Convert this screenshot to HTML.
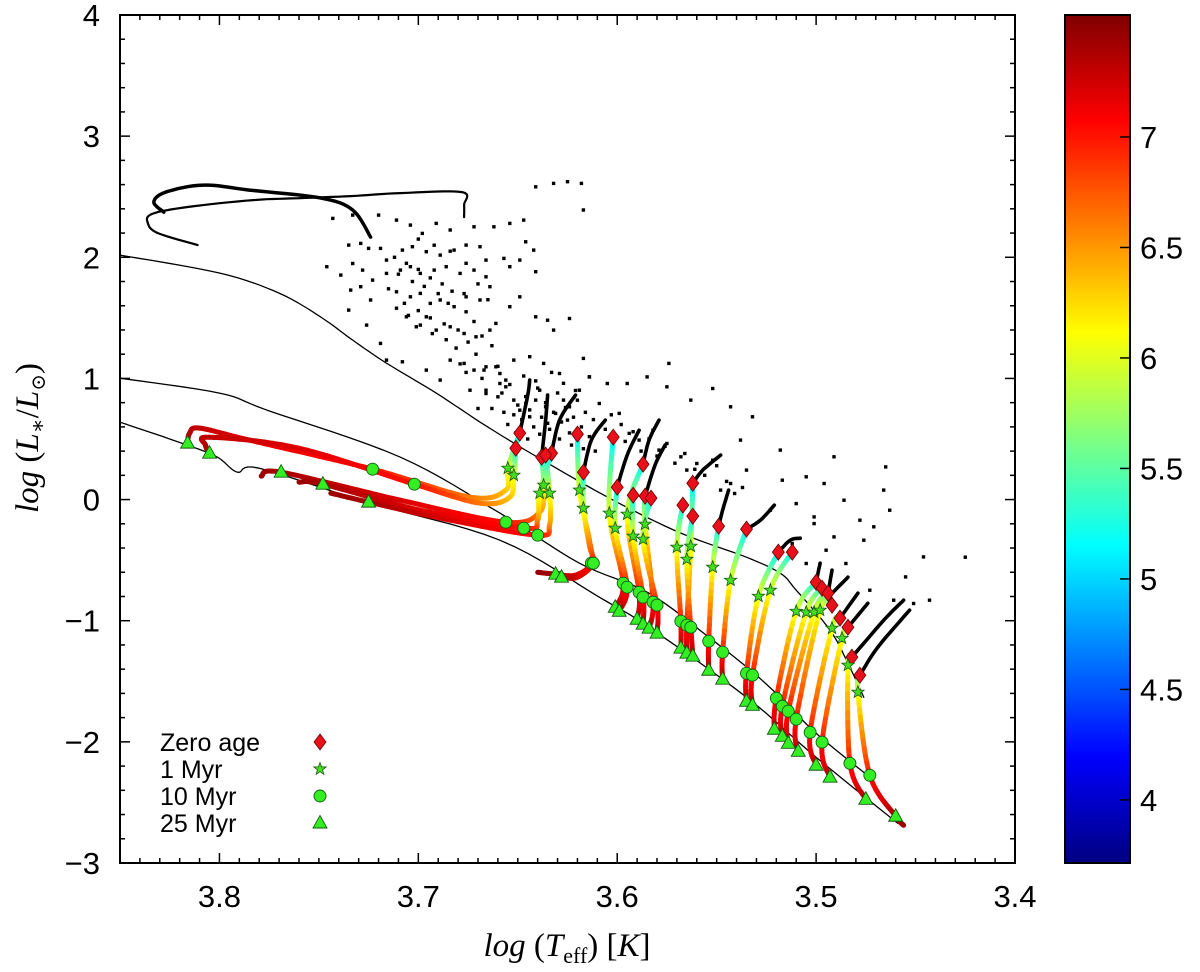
<!DOCTYPE html>
<html><head><meta charset="utf-8"><title>HR diagram</title>
<style>html,body{margin:0;padding:0;background:#fff}svg{display:block}</style></head>
<body>
<svg id="chart" width="1200" height="972" viewBox="0 0 1200 972" xmlns="http://www.w3.org/2000/svg">
<defs><clipPath id="pc"><rect x="120" y="15" width="895" height="848"/></clipPath>
<linearGradient id="cbg" x1="0" y1="1" x2="0" y2="0"></linearGradient></defs>
<g id="plot" clip-path="url(#pc)"></g>
<g id="axes"></g>
<g id="legend"></g>
<g id="cbar"></g>
<text x="567" y="956" text-anchor="middle" font-family="Liberation Serif, serif" font-size="33"><tspan font-style="italic">log</tspan> (<tspan font-style="italic">T</tspan><tspan font-size="22" dy="7">eff</tspan><tspan dy="-7">) [</tspan><tspan font-style="italic">K</tspan>]</text>
<text transform="translate(38,438) rotate(-90)" text-anchor="middle" font-family="Liberation Serif, DejaVu Serif, serif" font-size="33"><tspan font-style="italic">log</tspan> (<tspan font-style="italic">L</tspan><tspan font-size="22" dy="7">∗</tspan><tspan dy="-7">/</tspan><tspan font-style="italic">L</tspan><tspan font-size="20" dy="7">⊙</tspan><tspan dy="-7">)</tspan></text>
</svg>
<script>
// ---- axis ticks ----
const xTicks = [3.8, 3.7, 3.6, 3.5, 3.4];
const yTicks = [4, 3, 2, 1, 0, -1, -2, -3];
const cbTicks = [7, 6.5, 6, 5.5, 5, 4.5, 4];
// ---- isochrone lines ----
const isoATeff = [3.850,3.800,3.770,3.749,3.733,3.716,3.691,3.665,3.635,3.602,3.568,3.535,3.518,3.510,3.493,3.484,3.476];
const isoALum  = [2.018,1.870,1.704,1.506,1.316,1.126,0.879,0.598,0.301,-0.005,-0.277,-0.476,-0.608,-0.748,-1.078,-1.351,-1.632];
const isoBTeff = [3.850,3.800,3.776,3.709,3.659,3.619,3.584,3.552,3.533,3.518,3.500,3.473];
const isoBLum  = [1.002,0.879,0.738,0.350,-0.112,-0.525,-0.773,-1.161,-1.409,-1.632,-1.929,-2.292];
const isoCTeff = [3.850,3.816,3.801,3.791,3.780,3.726,3.659,3.609,3.584,3.535,3.500,3.459];
const isoCLum  = [0.639,0.449,0.350,0.226,0.259,-0.021,-0.335,-0.806,-1.054,-1.632,-2.127,-2.672];
// ---- upper-left black curves ----
const loop1Teff = [3.724,3.733,3.749,3.785,3.808,3.827,3.833,3.828];
const loop1Lum  = [2.167,2.390,2.489,2.555,2.596,2.538,2.456,2.373];
const loop2Teff = [3.811,3.831,3.836,3.834,3.816,3.783,3.758,3.734,3.709,3.678,3.677,3.677];
const loop2Lum  = [2.101,2.200,2.282,2.357,2.415,2.472,2.489,2.505,2.530,2.538,2.431,2.332];
// ---- observed stars (black dots) ----
const dotTeff = [3.743,3.733,3.720,3.711,3.704,3.698,3.691,3.684,3.672,3.662,3.654,3.647,3.646,3.642,3.641,3.632,3.625,3.618,3.617,3.735,3.729,3.725,3.719,3.716,3.708,3.703,3.696,3.689,3.682,3.676,3.669,3.666,3.746,3.739,3.733,3.728,3.723,3.716,3.709,3.704,3.699,3.692,3.686,3.679,3.672,3.666,3.657,3.649,3.641,3.734,3.729,3.724,3.711,3.704,3.699,3.694,3.689,3.682,3.676,3.669,3.664,3.654,3.735,3.726,3.719,3.706,3.701,3.696,3.691,3.684,3.677,3.671,3.664,3.661,3.654,3.649,3.641,3.635,3.624,3.632,3.716,3.708,3.696,3.689,3.684,3.677,3.672,3.666,3.659,3.652,3.644,3.637,3.629,3.674,3.666,3.670,3.663,3.660,3.656,3.617,3.614,
3.649,3.644,3.641,3.636,3.631,3.627,3.624,3.639,3.646,3.625,3.659,3.652,3.619,3.614,3.609,3.605,3.599,3.594,3.589,3.582,3.579,3.575,3.568,3.565,3.560,3.552,3.548,3.543,3.535,3.538,3.532,3.518,3.517,3.510,3.505,3.501,3.496,3.491,3.486,3.478,3.471,3.463,3.465,3.455,3.446,3.451,3.461,3.473,3.476,3.466,3.491,3.485,3.495,3.574,3.585,3.575,3.595,3.552,3.543,3.563,3.667,3.666,3.661,3.656,3.535,3.523,3.512,3.501,3.505,3.425,3.443,
3.655,3.652,3.650,3.648,3.646,3.644,3.642,3.640,3.638,3.636,3.634,3.632,3.630,3.628,3.626,3.624,3.622,3.620,3.618,3.616,3.614,3.612,3.658,3.654,3.647,3.641,3.633,3.627,3.621,3.657,3.651,3.645,3.639,3.635,3.629,3.623,3.617,3.611,3.606,3.603,3.598,3.596,3.592,3.588,3.584,3.580,3.576,3.571,3.566,3.561,3.556,3.550,3.545,3.541,3.537,
3.712,3.706,3.700,3.694,3.688,3.683,3.690,3.697,3.703,3.710,3.715,3.707,3.700,3.694,3.687,3.680,3.676,3.672,3.668,3.675,3.681,3.686,3.693,3.699,3.705,3.711,3.679,3.671,3.663,3.660,3.668,3.676,3.685,3.677,3.670,3.665,3.692,3.700,3.684,3.676];
const dotLum = [2.321,2.348,2.348,2.307,2.266,2.197,2.280,2.225,2.252,2.252,2.280,2.307,2.128,2.059,2.582,2.610,2.624,2.610,2.390,2.101,2.115,2.073,2.073,1.977,2.059,2.087,2.046,2.018,2.059,2.101,2.087,1.977,1.922,1.853,1.949,1.894,1.812,1.867,1.894,1.922,1.867,1.894,1.922,1.867,1.894,1.839,1.991,1.977,1.881,1.729,1.757,1.647,1.715,1.674,1.702,1.619,1.647,1.592,1.674,1.647,1.757,1.922,1.564,1.440,1.289,1.509,1.426,1.509,1.399,1.426,1.371,1.344,1.399,1.454,1.592,1.674,1.509,1.481,1.495,1.399,1.151,1.137,1.069,0.986,1.151,1.124,1.069,1.096,1.041,1.151,1.179,1.124,1.041,0.903,0.876,0.752,0.752,0.848,0.931,1.165,1.013,
0.738,0.683,0.821,0.766,0.711,0.821,0.766,0.903,0.793,0.656,0.958,0.821,0.903,1.013,0.793,0.958,0.711,0.546,0.491,0.573,0.408,0.463,0.353,0.243,0.298,0.325,0.078,0.133,0.243,0.491,0.683,0.408,0.160,-0.033,0.188,-0.143,0.133,0.353,-0.005,-0.170,-0.225,-0.088,0.270,-0.638,-0.473,-0.858,-0.831,-0.748,-0.335,0.078,-0.308,-0.528,-0.418,1.124,1.013,0.931,0.958,0.917,0.766,0.821,1.069,0.903,1.096,0.986,-0.280,-0.088,-0.363,-0.198,-0.528,-0.476,-0.831,
0.62,0.70,0.78,0.66,0.85,0.74,0.60,0.92,0.68,0.80,0.58,0.72,0.88,0.64,0.76,0.55,0.68,0.82,0.60,0.72,0.52,0.66,0.88,0.95,1.02,0.98,1.05,0.96,0.90,0.72,0.55,0.50,0.54,0.63,0.50,0.45,0.42,0.40,0.58,0.70,0.62,0.48,0.56,0.40,0.50,0.36,0.44,0.30,0.38,0.25,0.20,0.28,0.15,0.05,0.10,
2.00,1.95,1.90,1.83,1.78,1.72,1.70,1.76,1.80,1.86,1.74,1.62,1.56,1.50,1.45,1.40,1.55,1.47,1.35,1.30,1.25,1.32,1.37,1.44,1.52,1.58,1.12,1.20,1.27,1.10,1.00,1.05,1.62,1.70,1.78,1.65,2.10,2.15,2.05,1.95];
// ---- black pre-track heads ----
const headTeff = [[3.649,3.645,3.644],[3.638,3.636,3.635],[3.633,3.629,3.621],[3.617,3.613,3.606],[3.600,3.595,3.589],[3.587,3.584,3.579],[3.586,3.581,3.576],[3.562,3.557,3.548],[3.549,3.547,3.544],[3.535,3.528,3.521],[3.519,3.513,3.508],[3.500,3.498],[3.494,3.492],[3.492,3.484],[3.488,3.479],[3.484,3.474],[3.482,3.466,3.456],[3.478,3.469,3.453]];
const headLum  = [[0.548,0.862,0.986],[0.350,0.656,0.862],[0.383,0.656,0.862],[0.226,0.491,0.656],[0.102,0.367,0.573],[0.292,0.491,0.656],[0.028,0.284,0.449],[0.135,0.243,0.367],[-0.220,-0.088,0.078],[-0.244,-0.170,-0.046],[-0.434,-0.335,-0.319],[-0.682,-0.525],[-0.773,-0.583],[-0.773,-0.641],[-0.979,-0.773],[-1.054,-0.856],[-1.301,-0.996,-0.831],[-1.450,-1.219,-0.913]];
// ---- model tracks (Teff, L, log age); markers at age 5.0 (zero age), 6.0 (1 Myr), 7.0 (10 Myr), 7.4 (25 Myr) ----
const trackTeff = [
 [3.649,3.655,3.656,3.674,3.723,3.785,3.810,3.815,3.816],
 [3.651,3.652,3.654,3.669,3.702,3.760,3.805,3.807,3.805],
 [3.638,3.637,3.639,3.656,3.709,3.769,3.779],
 [3.633,3.639,3.640,3.647,3.699,3.748,3.760],
 [3.636,3.634,3.634,3.640,3.684,3.725,3.744],
 [3.620,3.619,3.614,3.613,3.621,3.631,3.640],
 [3.617,3.617,3.614,3.612,3.620,3.628],
 [3.602,3.604,3.597,3.601],[3.600,3.601,3.595,3.599],[3.587,3.595,3.589,3.590],[3.592,3.592,3.587,3.587],
 [3.586,3.586,3.582,3.584],[3.583,3.587,3.580,3.580],[3.567,3.570,3.568,3.568],[3.562,3.563,3.565,3.565],
 [3.562,3.565,3.563,3.562],[3.549,3.552,3.554,3.554],[3.535,3.543,3.547,3.547],[3.519,3.529,3.535,3.535],
 [3.512,3.523,3.532,3.532],[3.500,3.510,3.520,3.521],[3.497,3.505,3.517,3.517],[3.494,3.501,3.514,3.514],
 [3.492,3.498,3.510,3.509],[3.488,3.492,3.503,3.500],[3.484,3.487,3.497,3.493],[3.482,3.484,3.483,3.475],
 [3.478,3.479,3.473,3.460,3.456]];
const trackLum = [
 [0.548,0.259,0.078,0.020,0.251,0.491,0.590,0.548,0.466],
 [0.424,0.201,0.020,-0.030,0.127,0.424,0.515,0.449,0.383],
 [0.350,0.119,-0.104,-0.187,-0.005,0.226,0.193],
 [0.383,0.053,-0.170,-0.236,-0.088,0.127,0.144],
 [0.367,0.053,-0.211,-0.294,-0.170,-0.021,0.053],
 [0.540,0.078,-0.335,-0.525,-0.624,-0.616,-0.600],
 [0.226,-0.071,-0.376,-0.525,-0.641,-0.641],
 [0.515,-0.112,-0.690,-0.889],[0.102,-0.236,-0.723,-0.922],[0.292,-0.121,-0.765,-0.988],[0.036,-0.302,-0.806,-1.029],
 [0.028,-0.203,-0.847,-1.062],[0.012,-0.327,-0.872,-1.103],[-0.046,-0.393,-1.004,-1.227],[0.135,-0.385,-1.037,-1.268],
 [-0.137,-0.492,-1.054,-1.293],[-0.220,-0.558,-1.169,-1.409],[-0.244,-0.666,-1.260,-1.483],[-0.434,-0.798,-1.434,-1.665],
 [-0.434,-0.748,-1.450,-1.698],[-0.682,-0.922,-1.640,-1.896],[-0.732,-0.930,-1.706,-1.954],[-0.773,-0.930,-1.747,-2.012],
 [-0.872,-0.913,-1.813,-2.078],[-0.979,-1.062,-1.921,-2.193],[-1.054,-1.145,-2.003,-2.292],[-1.301,-1.367,-2.177,-2.474],
 [-1.450,-1.590,-2.276,-2.614,-2.689]];
const trackAge = [
 [5.0,6.0,6.3,6.6,7.0,7.2,7.3,7.35,7.4],
 [5.0,6.0,6.3,6.6,7.0,7.2,7.3,7.35,7.4],
 [5.0,6.0,6.5,7.0,7.2,7.4,7.45],[5.0,6.0,6.5,7.0,7.2,7.4,7.45],[5.0,6.0,6.5,7.0,7.2,7.4,7.45],
 [5.0,6.0,6.6,7.0,7.2,7.4,7.45],[5.0,6.0,6.6,7.0,7.2,7.4],
 [5.0,6.0,7.0,7.4],[5.0,6.0,7.0,7.4],[5.0,6.0,7.0,7.4],[5.0,6.0,7.0,7.4],[5.0,6.0,7.0,7.4],[5.0,6.0,7.0,7.4],
 [5.0,6.0,7.0,7.4],[5.0,6.0,7.0,7.4],[5.0,6.0,7.0,7.4],[5.0,6.0,7.0,7.4],[5.0,6.0,7.0,7.4],[5.0,6.0,7.0,7.4],
 [5.0,6.0,7.0,7.4],[5.0,6.0,7.0,7.4],[5.0,6.0,7.0,7.4],[5.0,6.0,7.0,7.4],[5.0,6.0,7.0,7.4],[5.0,6.0,7.0,7.4],
 [5.0,6.0,7.0,7.4],[5.0,6.0,7.0,7.4],[5.0,6.0,7.0,7.4,7.45]];
const legendLabels = ["Zero age", "1  Myr", "10 Myr", "25 Myr"];
const markerAges = [5.0, 6.0, 7.0, 7.4];

const NS = "http://www.w3.org/2000/svg";
const X0 = 120, X1 = 1015, Y0 = 15, Y1 = 863;
const T_LEFT = 3.85, T_RIGHT = 3.4, L_TOP = 4, L_BOT = -3;
const sx = t => X0 + (T_LEFT - t) / (T_LEFT - T_RIGHT) * (X1 - X0);
const sy = l => Y0 + (L_TOP - l) / (L_TOP - L_BOT) * (Y1 - Y0);
const CB_TOP = 7.552, CB_BOT = 3.719;
const cby = v => Y0 + (CB_TOP - v) / (CB_TOP - CB_BOT) * (Y1 - Y0 - 1);
function el(tag, attrs, parent) { const e = document.createElementNS(NS, tag); for (const k in attrs) e.setAttribute(k, attrs[k]); parent.appendChild(e); return e; }
function cl(v) { return Math.max(0, Math.min(1, v)); }
function jet(age) {
  const t = cl((age - CB_BOT) / (CB_TOP - CB_BOT));
  const r = cl(1.5 - Math.abs(4 * t - 3)), g = cl(1.5 - Math.abs(4 * t - 2)), b = cl(1.5 - Math.abs(4 * t - 1));
  return `rgb(${Math.round(r * 255)},${Math.round(g * 255)},${Math.round(b * 255)})`;
}
function cr(p0, p1, p2, p3, u) {
  const u2 = u * u, u3 = u2 * u;
  return 0.5 * ((2 * p1) + (-p0 + p2) * u + (2 * p0 - 5 * p1 + 4 * p2 - p3) * u2 + (-p0 + 3 * p1 - 3 * p2 + p3) * u3);
}
const plot = document.getElementById("plot"), axes = document.getElementById("axes"), legend = document.getElementById("legend"), cbar = document.getElementById("cbar");

function smoothLine(ts, ls, parent, w, name) {
  const px = ts.map(sx), py = ls.map(sy), n = px.length, N = 8;
  const pts = [px[0].toFixed(1) + "," + py[0].toFixed(1)];
  for (let i = 0; i < n - 1; i++) {
    const a = Math.max(0, i - 1), b = Math.min(n - 1, i + 2);
    for (let s = 1; s <= N; s++) {
      const u = s / N;
      pts.push(cr(px[a], px[i], px[i + 1], px[b], u).toFixed(1) + "," + cr(py[a], py[i], py[i + 1], py[b], u).toFixed(1));
    }
  }
  const p = el("polyline", { points: pts.join(" "), fill: "none", stroke: "#000", "stroke-width": w, "stroke-linejoin": "round", "stroke-linecap": "round" }, parent);
  
  
}
smoothLine(isoATeff, isoALum, plot, 1.3, "isochrone-upper");
smoothLine(isoBTeff, isoBLum, plot, 1.3, "isochrone-middle");
smoothLine(isoCTeff, isoCLum, plot, 1.3, "isochrone-lower");
smoothLine(loop1Teff, loop1Lum, plot, 3.5, "massive-track-loop");
smoothLine(loop2Teff, loop2Lum, plot, 2.2, "massive-track-loop-2");

dotTeff.forEach((t, i) => {
  const d = el("rect", { x: (sx(t) - 1.7).toFixed(1), y: (sy(dotLum[i]) - 1.7).toFixed(1), width: 3.4, height: 3.4, fill: "#000" }, plot);
  
  
});
headTeff.forEach((ts, i) => smoothLine(ts, headLum[i], plot, 3.6, "track-head"));

trackTeff.forEach((ts, k) => {
  const g = el("g", {}, plot);
  
  
  const px = ts.map(sx), py = trackLum[k].map(sy), ag = trackAge[k], n = px.length;
  const N = 12;
  for (let i = 0; i < n - 1; i++) {
    const a = Math.max(0, i - 1), b = Math.min(n - 1, i + 2);
    let prevX = px[i], prevY = py[i];
    for (let s = 1; s <= N; s++) {
      const u = s / N;
      const x = cr(px[a], px[i], px[i + 1], px[b], u), y = cr(py[a], py[i], py[i + 1], py[b], u);
      const age = ag[i] + (ag[i + 1] - ag[i]) * (u - 0.5 / N);
      el("line", { x1: prevX.toFixed(1), y1: prevY.toFixed(1), x2: x.toFixed(1), y2: y.toFixed(1), stroke: jet(age), "stroke-width": 5, "stroke-linecap": "round" }, g);
      prevX = x; prevY = y;
    }
  }
});

function marker(type, x, y, parent) {
  let m;
  if (type === 0) m = el("polygon", { points: `${x},${y - 8} ${x + 6},${y} ${x},${y + 8} ${x - 6},${y}`, fill: "#e8101a", stroke: "#600", "stroke-width": 0.8 }, parent);
  else if (type === 1) {
    const pts = []; for (let i = 0; i < 10; i++) { const r = i % 2 ? 2.7 : 6.5, a = -Math.PI / 2 + i * Math.PI / 5; pts.push((x + r * Math.cos(a)).toFixed(1) + "," + (y + r * Math.sin(a)).toFixed(1)); }
    m = el("polygon", { points: pts.join(" "), fill: "#44dd22", stroke: "#1a5a10", "stroke-width": 0.8 }, parent);
  } else if (type === 2) m = el("circle", { cx: x, cy: y, r: 6, fill: "#33ee22", stroke: "#145a10", "stroke-width": 0.9 }, parent);
  else m = el("polygon", { points: `${x},${y - 7.5} ${x + 7},${y + 5} ${x - 7},${y + 5}`, fill: "#33ee22", stroke: "#145a10", "stroke-width": 0.9 }, parent);
  return m;
}
trackTeff.forEach((ts, k) => {
  ts.forEach((t, i) => {
    const type = markerAges.indexOf(trackAge[k][i]);
    if (type < 0) return;
    const m = marker(type, sx(t), sy(trackLum[k][i]), plot);
    
    
  });
});

// frame
const fr = el("rect", { x: X0, y: Y0, width: X1 - X0, height: Y1 - Y0, fill: "none", stroke: "#000", "stroke-width": 2 }, axes);


for (let v = 3.85; v >= 3.4 - 1e-9; v -= 0.01) {
  const x = sx(v), major = xTicks.some(t => Math.abs(t - v) < 1e-6), len = major ? 10 : 5;
  el("line", { x1: x, y1: Y1, x2: x, y2: Y1 - len, stroke: "#000", "stroke-width": 1.5 }, axes);
  el("line", { x1: x, y1: Y0, x2: x, y2: Y0 + len, stroke: "#000", "stroke-width": 1.5 }, axes);
}
for (let v = -3; v <= 4 + 1e-9; v += 0.2) {
  const y = sy(v), major = Math.abs(v - Math.round(v)) < 1e-6, len = major ? 10 : 5;
  el("line", { x1: X0, y1: y, x2: X0 + len, y2: y, stroke: "#000", "stroke-width": 1.5 }, axes);
  el("line", { x1: X1, y1: y, x2: X1 - len, y2: y, stroke: "#000", "stroke-width": 1.5 }, axes);
}
xTicks.forEach(v => {
  const t = el("text", { x: sx(v), y: 907, "text-anchor": "middle", "font-family": "Liberation Sans, sans-serif", "font-size": 31 }, axes);
  t.textContent = v.toFixed(1);
  
  
});
yTicks.forEach(v => {
  const t = el("text", { x: 100, y: sy(v) + 11, "text-anchor": "end", "font-family": "Liberation Sans, sans-serif", "font-size": 31 }, axes);
  t.textContent = v < 0 ? "\u2212" + Math.abs(v) : String(v);
  
  
});

// legend
legendLabels.forEach((lab, i) => {
  const y = 742 + i * 27;
  const t = el("text", { x: 160, y: y + 9, "font-family": "Liberation Sans, sans-serif", "font-size": 25 }, legend);
  t.textContent = lab;
  
  
  const m = marker(i, 320, y, legend);
  
  
});

// colorbar
const grad = document.getElementById("cbg");
for (let i = 0; i <= 40; i++) {
  const a = CB_BOT + (CB_TOP - CB_BOT) * i / 40;
  el("stop", { offset: (i / 40).toFixed(3), "stop-color": jet(a) }, grad);
}
const cb = el("rect", { x: 1065, y: Y0, width: 65, height: Y1 - Y0, fill: "url(#cbg)", stroke: "#000", "stroke-width": 2 }, cbar);


cbTicks.forEach(v => {
  const y = cby(v);
  el("line", { x1: 1120, y1: y, x2: 1130, y2: y, stroke: "#000", "stroke-width": 1.5 }, cbar);
  const t = el("text", { x: 1140, y: y + 11, "font-family": "Liberation Sans, sans-serif", "font-size": 31 }, cbar);
  t.textContent = String(v);
  
  
});
</script>
</body></html>
